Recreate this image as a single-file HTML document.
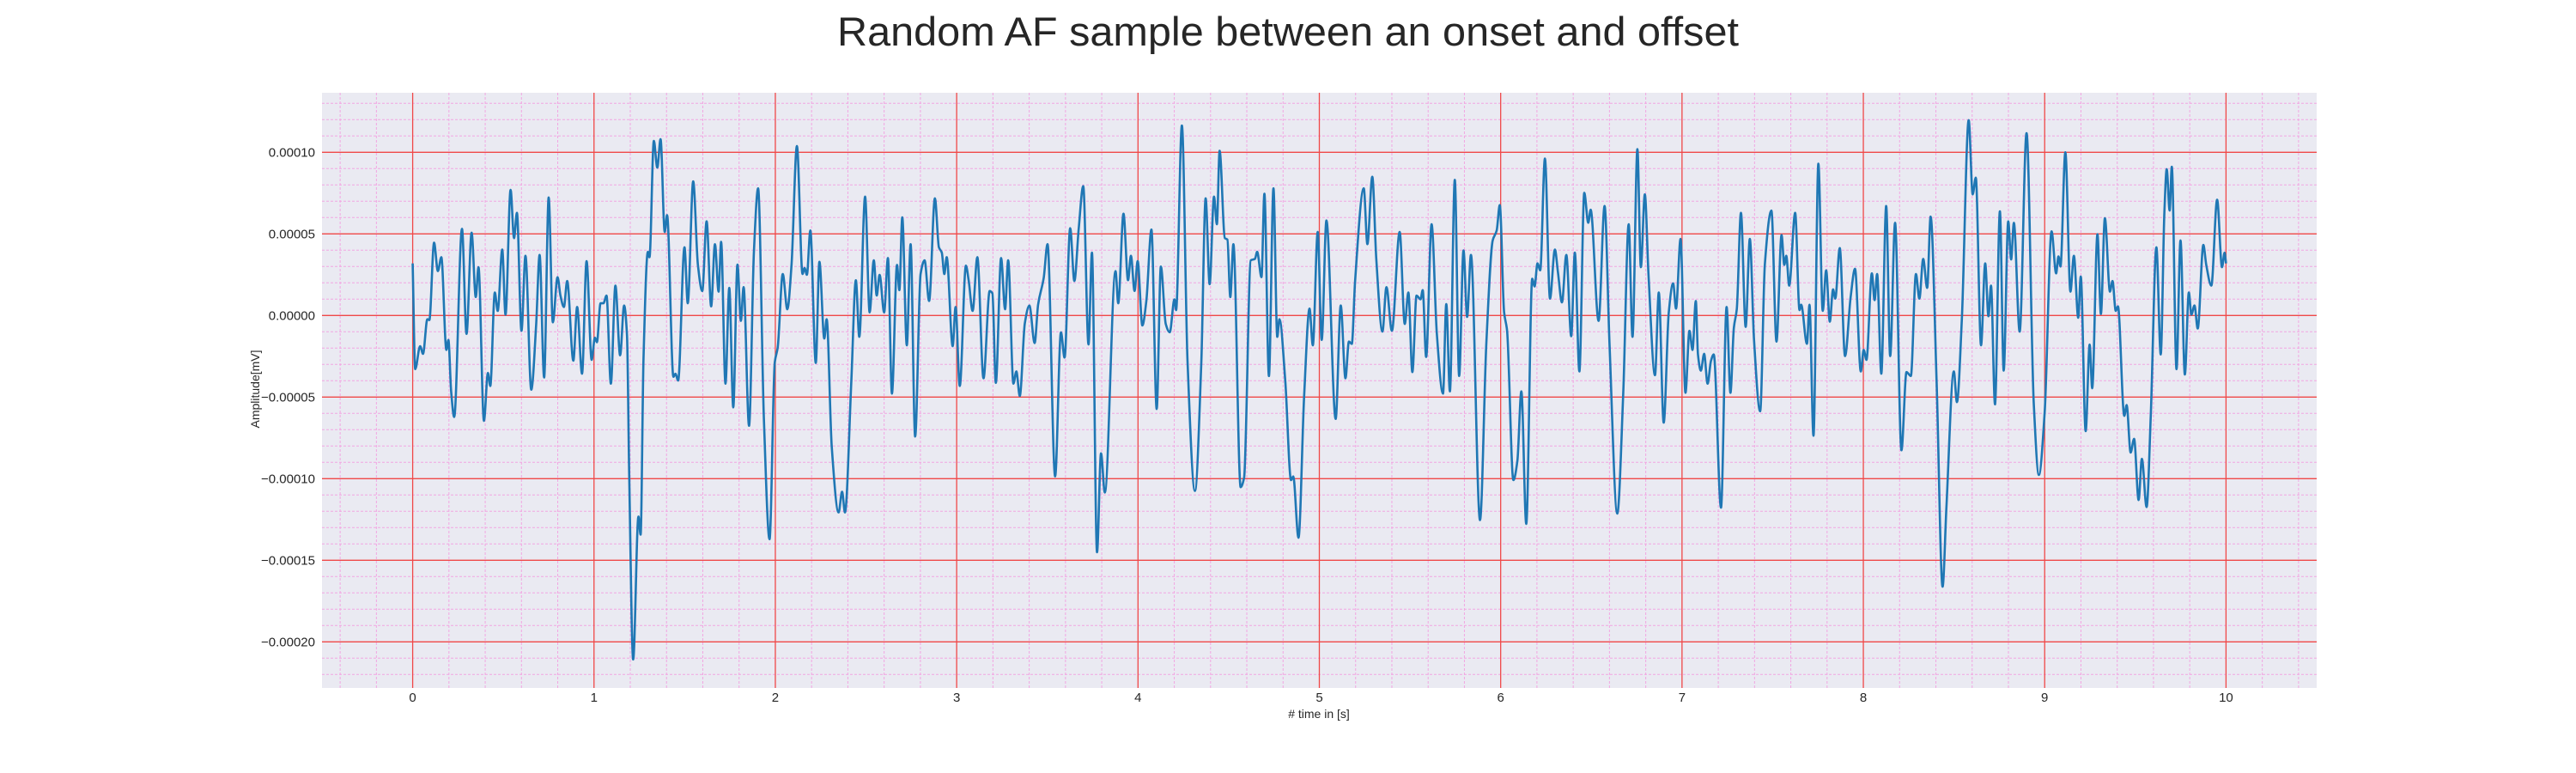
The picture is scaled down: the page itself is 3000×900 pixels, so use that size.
<!DOCTYPE html>
<html><head><meta charset="utf-8"><style>
html,body{margin:0;padding:0;background:#fff;}
svg{display:block;font-family:"Liberation Sans",Arial,sans-serif;}
</style></head><body>
<svg id="chart" width="3000" height="900" viewBox="0 0 3000 900" xmlns="http://www.w3.org/2000/svg">
<text x="1500" y="53" text-anchor="middle" font-size="47" fill="#262626" textLength="1050" lengthAdjust="spacingAndGlyphs">Random AF sample between an onset and offset</text>
<rect x="375" y="108" width="2323" height="693" fill="#eaeaf2"/>
<g id="minor-grid"></g>
<g id="major-grid"></g>
<g id="series"></g>
<g id="yticks"></g>
<g id="xticks"></g>
<text x="1536" y="836" text-anchor="middle" font-size="14" fill="#262626"># time in [s]</text>
<text transform="translate(302,453) rotate(-90)" text-anchor="middle" font-size="14" fill="#262626">Amplitude[mV]</text>
</svg>
<script>
const AMP_UNIT = 1e-5;
const times = [0,0.014,0.041,0.057,0.081,0.092,0.118,0.139,0.158,0.186,0.197,0.212,0.229,0.272,0.297,0.325,0.348,0.363,0.393,0.415,0.428,0.453,0.469,0.494,0.512,0.540,0.559,0.575,0.600,0.622,0.654,0.681,0.700,0.725,0.750,0.773,0.799,0.815,0.834,0.852,0.886,0.907,0.934,0.959,0.987,1.005,1.016,1.036,1.052,1.069,1.093,1.118,1.144,1.166,1.182,1.194,1.216,1.245,1.257,1.273,1.297,1.306,1.330,1.349,1.367,1.390,1.403,1.438,1.449,1.464,1.499,1.517,1.547,1.573,1.597,1.621,1.646,1.667,1.687,1.701,1.725,1.746,1.768,1.791,1.810,1.825,1.855,1.882,1.905,1.937,1.968,1.997,2.013,2.041,2.066,2.089,2.119,2.150,2.161,2.174,2.193,2.223,2.243,2.270,2.283,2.311,2.349,2.368,2.384,2.419,2.444,2.463,2.495,2.520,2.543,2.559,2.575,2.600,2.621,2.643,2.671,2.684,2.700,2.725,2.746,2.771,2.801,2.823,2.848,2.880,2.902,2.918,2.932,2.945,2.978,2.994,3.017,3.051,3.066,3.088,3.114,3.148,3.182,3.197,3.216,3.245,3.267,3.284,3.313,3.329,3.348,3.376,3.401,3.430,3.449,3.480,3.501,3.543,3.575,3.595,3.626,3.649,3.673,3.698,3.727,3.746,3.774,3.796,3.817,3.876,3.891,3.920,3.945,3.961,3.981,3.998,4.024,4.046,4.074,4.103,4.126,4.153,4.175,4.201,4.210,4.242,4.273,4.314,4.349,4.373,4.395,4.419,4.435,4.450,4.479,4.493,4.509,4.526,4.566,4.585,4.622,4.645,4.657,4.681,4.697,4.722,4.747,4.768,4.780,4.812,4.844,4.856,4.885,4.916,4.946,4.964,4.991,5.013,5.039,5.090,5.118,5.144,5.163,5.179,5.197,5.245,5.265,5.292,5.314,5.348,5.370,5.400,5.443,5.471,5.491,5.513,5.536,5.558,5.570,5.589,5.619,5.648,5.682,5.700,5.720,5.747,5.771,5.795,5.815,5.836,5.886,5.921,5.956,5.978,5.995,6.019,6.035,6.070,6.092,6.114,6.141,6.174,6.187,6.203,6.218,6.244,6.272,6.299,6.316,6.338,6.362,6.389,6.409,6.434,6.461,6.483,6.496,6.540,6.573,6.600,6.643,6.676,6.706,6.727,6.754,6.773,6.795,6.815,6.851,6.872,6.899,6.927,6.951,6.967,6.992,7.019,7.041,7.058,7.076,7.088,7.104,7.122,7.141,7.160,7.175,7.215,7.246,7.267,7.286,7.302,7.325,7.351,7.374,7.397,7.431,7.457,7.493,7.521,7.549,7.564,7.575,7.591,7.624,7.648,7.657,7.689,7.703,7.725,7.752,7.776,7.795,7.815,7.833,7.845,7.870,7.899,7.930,7.954,7.986,8.002,8.017,8.047,8.062,8.076,8.099,8.126,8.148,8.175,8.210,8.238,8.262,8.290,8.309,8.330,8.352,8.371,8.404,8.437,8.458,8.499,8.516,8.543,8.581,8.603,8.620,8.649,8.672,8.690,8.704,8.726,8.753,8.774,8.799,8.815,8.830,8.862,8.900,8.940,8.968,9.000,9.038,9.063,9.076,9.087,9.114,9.142,9.161,9.185,9.199,9.226,9.248,9.262,9.291,9.310,9.332,9.360,9.374,9.392,9.404,9.439,9.452,9.474,9.493,9.518,9.536,9.562,9.585,9.616,9.640,9.660,9.673,9.689,9.701,9.727,9.749,9.773,9.795,9.809,9.826,9.844,9.875,9.891,9.919,9.951,9.978,9.992,10.0];
const amps = [3.19,-3.29,-1.88,-2.35,-0.23,-0.28,4.46,2.72,3.57,-2.11,-1.50,-4.62,-6.22,5.31,-1.13,5.07,1.13,2.96,-6.46,-3.52,-4.32,1.41,0.28,4.04,0.05,7.70,4.74,6.29,-0.94,3.66,-4.55,-0.56,3.71,-3.80,7.23,-0.42,2.35,1.22,0.52,2.11,-2.77,0.52,-3.57,3.33,-2.72,-1.36,-1.64,0.75,0.75,1.22,-4.18,1.83,-2.44,0.61,-1.22,-9.67,-21.08,-12.32,-13.43,-2.63,3.90,3.57,10.70,9.06,10.80,5.12,6.15,-3.76,-3.57,-3.99,4.18,0.75,8.22,3.10,1.50,5.77,0.56,4.37,1.46,4.51,-4.18,1.69,-5.63,3.12,-0.33,1.74,-6.76,3.94,7.79,-6.38,-13.71,-2.86,-1.97,2.54,0.38,3.05,10.38,2.54,2.91,2.49,5.21,-2.91,3.29,-1.41,-0.23,-8.03,-12.07,-10.80,-12.07,-4.04,2.16,-1.31,7.28,0.19,3.38,1.22,2.49,0.19,3.52,-4.79,3.10,1.55,6.01,-1.83,4.37,-7.42,2.54,3.38,0.89,7.18,4.18,3.85,2.54,3.57,-1.88,0.52,-4.32,3.05,2.16,0.28,3.57,-3.85,1.50,1.36,-4.13,3.52,0.38,3.38,-4.18,-3.43,-4.93,-0.47,0.61,-1.69,0.66,2.30,4.37,-9.86,-1.03,-2.58,5.35,2.11,5.31,7.93,-1.78,3.85,-14.51,-8.45,-10.85,2.72,0.75,6.24,2.16,3.66,1.50,3.33,-0.61,0.89,5.26,-5.73,3.00,-0.52,-1.03,0.99,0.33,11.64,-2.77,-10.75,-2.91,7.18,1.92,7.28,5.59,10.09,4.74,4.65,1.13,4.37,-10.52,-9.95,3.38,3.47,3.90,2.35,7.46,-3.71,7.79,-1.31,-0.23,-3.99,-10.09,-9.86,-13.62,-4.98,0.42,-1.83,5.12,-1.50,5.82,-6.34,0.61,-3.85,-1.60,-1.74,2.07,7.79,4.37,8.50,3.47,-0.99,1.74,-0.94,5.12,-0.52,1.41,-3.47,1.22,0.99,1.55,-2.54,5.59,-1.13,-4.79,0.70,-4.65,8.31,-3.71,3.99,-0.09,3.71,-12.54,-1.69,4.60,5.21,6.76,0.19,-0.89,-10.09,-8.92,-4.65,-12.77,2.25,1.78,3.19,2.77,9.62,1.03,4.04,2.63,0.80,3.71,-1.27,3.85,-3.43,7.51,5.68,6.48,-0.33,6.71,-1.69,-12.14,-4.74,5.59,-1.31,10.19,2.96,7.42,2.54,-3.66,1.41,-6.57,0.19,1.97,0.42,4.69,-4.74,-0.94,-2.11,0.89,-2.39,-3.38,-2.35,-4.18,-2.77,-2.39,-11.78,0.52,-4.74,-0.75,0.38,6.29,-0.70,4.69,-1.46,-5.87,3.15,6.43,-1.60,4.93,3.10,3.66,1.83,6.29,0.33,0.66,-1.74,0.66,-7.37,9.30,0.28,2.77,-0.38,1.60,1.03,4.13,-2.49,1.13,2.86,-3.43,-2.11,-2.72,2.58,0.94,2.54,-3.57,6.71,-2.49,5.68,-8.26,-3.47,-3.71,2.54,1.03,3.47,1.69,6.06,-4.04,-16.62,-11.78,-3.43,-5.31,-0.28,11.97,7.42,8.45,-1.83,3.19,-0.05,1.83,-5.45,6.38,-3.38,5.77,3.43,5.68,-0.99,11.17,-5.45,-9.77,-5.92,5.16,2.58,3.62,3.00,10.00,1.46,3.66,-0.14,2.39,-7.09,-1.78,-4.46,4.98,0.09,5.96,1.46,2.11,0.28,0.56,-6.15,-5.49,-8.40,-7.56,-11.31,-8.78,-11.74,-6.15,4.18,-2.39,6.29,8.97,6.43,9.11,-3.29,4.60,-3.62,1.41,0.05,0.61,-0.80,4.32,3.10,1.83,7.09,2.96,3.85,3.19];
const xTicks = [0,1,2,3,4,5,6,7,8,9,10];
const yTickValues = [-0.0002,-0.00015,-0.0001,-0.00005,0,0.00005,0.0001];
const yTickLabels = ["\u22120.00020","\u22120.00015","\u22120.00010","\u22120.00005","0.00000","0.00005","0.00010"];

const X0=375, X1=2698, Y0=108, Y1=801;
const xMin=-0.5, xMax=10.5;
const yZeroPx=367.3, pxPerUnit=19.0;
function xs(t){return X0+(t-xMin)/(xMax-xMin)*(X1-X0);}
function ys(v){return yZeroPx - (v/AMP_UNIT)*pxPerUnit;}
const vMin=-(Y1-yZeroPx)/pxPerUnit*AMP_UNIT, vMax=(yZeroPx-Y0)/pxPerUnit*AMP_UNIT;
const NS="http://www.w3.org/2000/svg";
function mk(tag,attrs,parent){const e=document.createElementNS(NS,tag);for(const k in attrs)e.setAttribute(k,attrs[k]);parent.appendChild(e);return e;}

const minor=document.getElementById('minor-grid');
for(let i=-2;i<=52;i++){const t=i*0.2; if(t<xMin||t>xMax) continue; if(Math.abs(t-Math.round(t))<1e-6) continue;
  const l=mk('line',{x1:xs(t),x2:xs(t),y1:Y0,y2:Y1,stroke:'#f2a6e2','stroke-width':1,'stroke-dasharray':'3,2'},minor);
  
  }
for(let i=-25;i<=15;i++){const v=i*AMP_UNIT; if(v<vMin||v>vMax) continue; if(i%5===0) continue;
  const l=mk('line',{x1:X0,x2:X1,y1:ys(v),y2:ys(v),stroke:'#f2a6e2','stroke-width':1,'stroke-dasharray':'3,2'},minor);
  
  }
const major=document.getElementById('major-grid');
xTicks.forEach(t=>{const l=mk('line',{x1:xs(t),x2:xs(t),y1:Y0,y2:Y1,stroke:'#f04848','stroke-width':1.3},major);
  
  });
yTickValues.forEach(v=>{const l=mk('line',{x1:X0,x2:X1,y1:ys(v),y2:ys(v),stroke:'#f04848','stroke-width':1.3},major);
  
  });

// monotone cubic path
const px=times.map(xs), py=amps.map(a=>ys(a*AMP_UNIT));
const n=px.length, d=[], m=[];
for(let i=0;i<n-1;i++) d.push((py[i+1]-py[i])/(px[i+1]-px[i]));
for(let i=0;i<n;i++){
  if(i===0) m.push(d[0]); else if(i===n-1) m.push(d[n-2]);
  else { if(d[i-1]*d[i]<=0) m.push(0); else { const h0=px[i]-px[i-1], h1=px[i+1]-px[i];
    m.push(3*(h0+h1)/((2*h1+h0)/d[i-1]+(h1+2*h0)/d[i])); } }
}
let p='M'+px[0].toFixed(2)+','+py[0].toFixed(2);
for(let i=0;i<n-1;i++){const h=px[i+1]-px[i];
  p+=' C'+(px[i]+h/3).toFixed(2)+','+(py[i]+m[i]*h/3).toFixed(2)+' '+(px[i+1]-h/3).toFixed(2)+','+(py[i+1]-m[i+1]*h/3).toFixed(2)+' '+px[i+1].toFixed(2)+','+py[i+1].toFixed(2);}
const line=mk('path',{d:p,fill:'none',stroke:'#1f77b4','stroke-width':2.6,'stroke-linejoin':'round'},document.getElementById('series'));



const yt=document.getElementById('yticks');
yTickValues.forEach((v,i)=>{const t=mk('text',{x:367,y:ys(v)+5,'text-anchor':'end','font-size':15,fill:'#262626'},yt);t.textContent=yTickLabels[i];
  
  });
const xt=document.getElementById('xticks');
xTicks.forEach(v=>{const t=mk('text',{x:xs(v),y:817,'text-anchor':'middle','font-size':15,fill:'#262626'},xt);t.textContent=String(v);
  
  });
</script>
</body></html>
